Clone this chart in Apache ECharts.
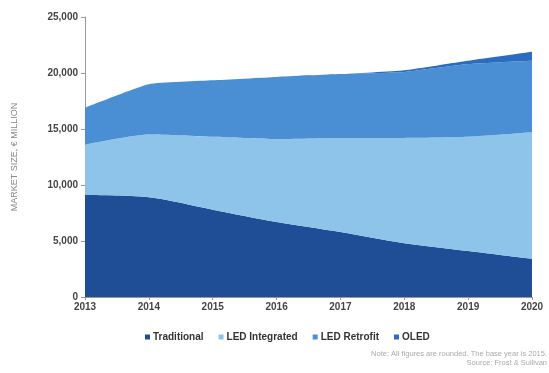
<!DOCTYPE html>
<html><head><meta charset="utf-8">
<script src="https://cdn.jsdelivr.net/npm/echarts@6/dist/echarts.min.js"></script>
<style>html,body{margin:0;padding:0;background:#fff}#c{width:549px;height:373px}</style>
</head><body><div id="c"></div>
<script>
const years = ['2013','2014','2015','2016','2017','2018','2019','2020'];
const seriesNames = ['Traditional','LED Integrated','LED Retrofit','OLED'];
const traditional = [9100, 8900, 7800, 6700, 5800, 4800, 4100, 3400];
const ledIntegrated = [4500, 5600, 6500, 7400, 8400, 9400, 10200, 11300];
const ledRetrofit = [3300, 4500, 5050, 5550, 5700, 5900, 6500, 6400];
const oled = [0, 0, 0, 0, 0, 150, 300, 800];
const yTicks = [0, 5000, 10000, 15000, 20000, 25000];
const colors = ['#1f4e96','#8ec3ea','#4a8fd4','#2b6cc0'];
const values = [traditional, ledIntegrated, ledRetrofit, oled];
const smoothness = [0.3, 0.2, 0.15, 0.15];

const chart = echarts.init(document.getElementById('c'));
const font = 'Liberation Sans, Arial, sans-serif';
chart.setOption({
  animation: false,
  color: colors,
  grid: {left: 85, right: 17, top: 17, bottom: 76},
  xAxis: {
    type: 'category', data: years, boundaryGap: false,
    axisLine: {lineStyle: {color: '#999'}},
    axisTick: {show: true, length: 3, lineStyle: {color: '#999'}},
    axisLabel: {color: '#444', fontFamily: font, fontSize: 10, fontWeight: 'bold', margin: 5}
  },
  yAxis: {
    type: 'value', min: yTicks[0], max: yTicks[yTicks.length-1], interval: 5000,
    name: 'MARKET SIZE, € MILLION', nameLocation: 'middle', nameGap: 66,
    nameTextStyle: {color: '#888', fontFamily: font, fontSize: 9},
    axisLine: {show: true, lineStyle: {color: '#999'}},
    axisTick: {show: true, length: 4, lineStyle: {color: '#999'}},
    splitLine: {show: false},
    axisLabel: {color: '#444', fontFamily: font, fontSize: 10, fontWeight: 'bold', margin: 7,
      formatter: v => v.toLocaleString('en-US')}
  },
  legend: {
    bottom: 26, left: 140, itemWidth: 5, itemHeight: 5, itemGap: 15, icon: 'rect',
    textStyle: {color: '#333', fontFamily: font, fontSize: 10, fontWeight: 'bold', padding: [0,0,0,-2]},
    data: seriesNames
  },
  graphic: [
    {type: 'text', right: 2, top: 350, style: {text: 'Note: All figures are rounded. The base year is 2015.', fill: '#aaa', font: '7.5px ' + font, textAlign: 'right'}},
    {type: 'text', right: 2, top: 359, style: {text: 'Source: Frost & Sullivan', fill: '#aaa', font: '7.5px ' + font, textAlign: 'right'}}
  ],
  series: seriesNames.map((n, i) => ({
    name: n, type: 'line', stack: 'total', data: values[i], smooth: smoothness[i],
    symbol: 'none', lineStyle: {width: 0}, areaStyle: {color: colors[i], opacity: 1},
    itemStyle: {color: colors[i]}
  }))
});
</script></body></html>
